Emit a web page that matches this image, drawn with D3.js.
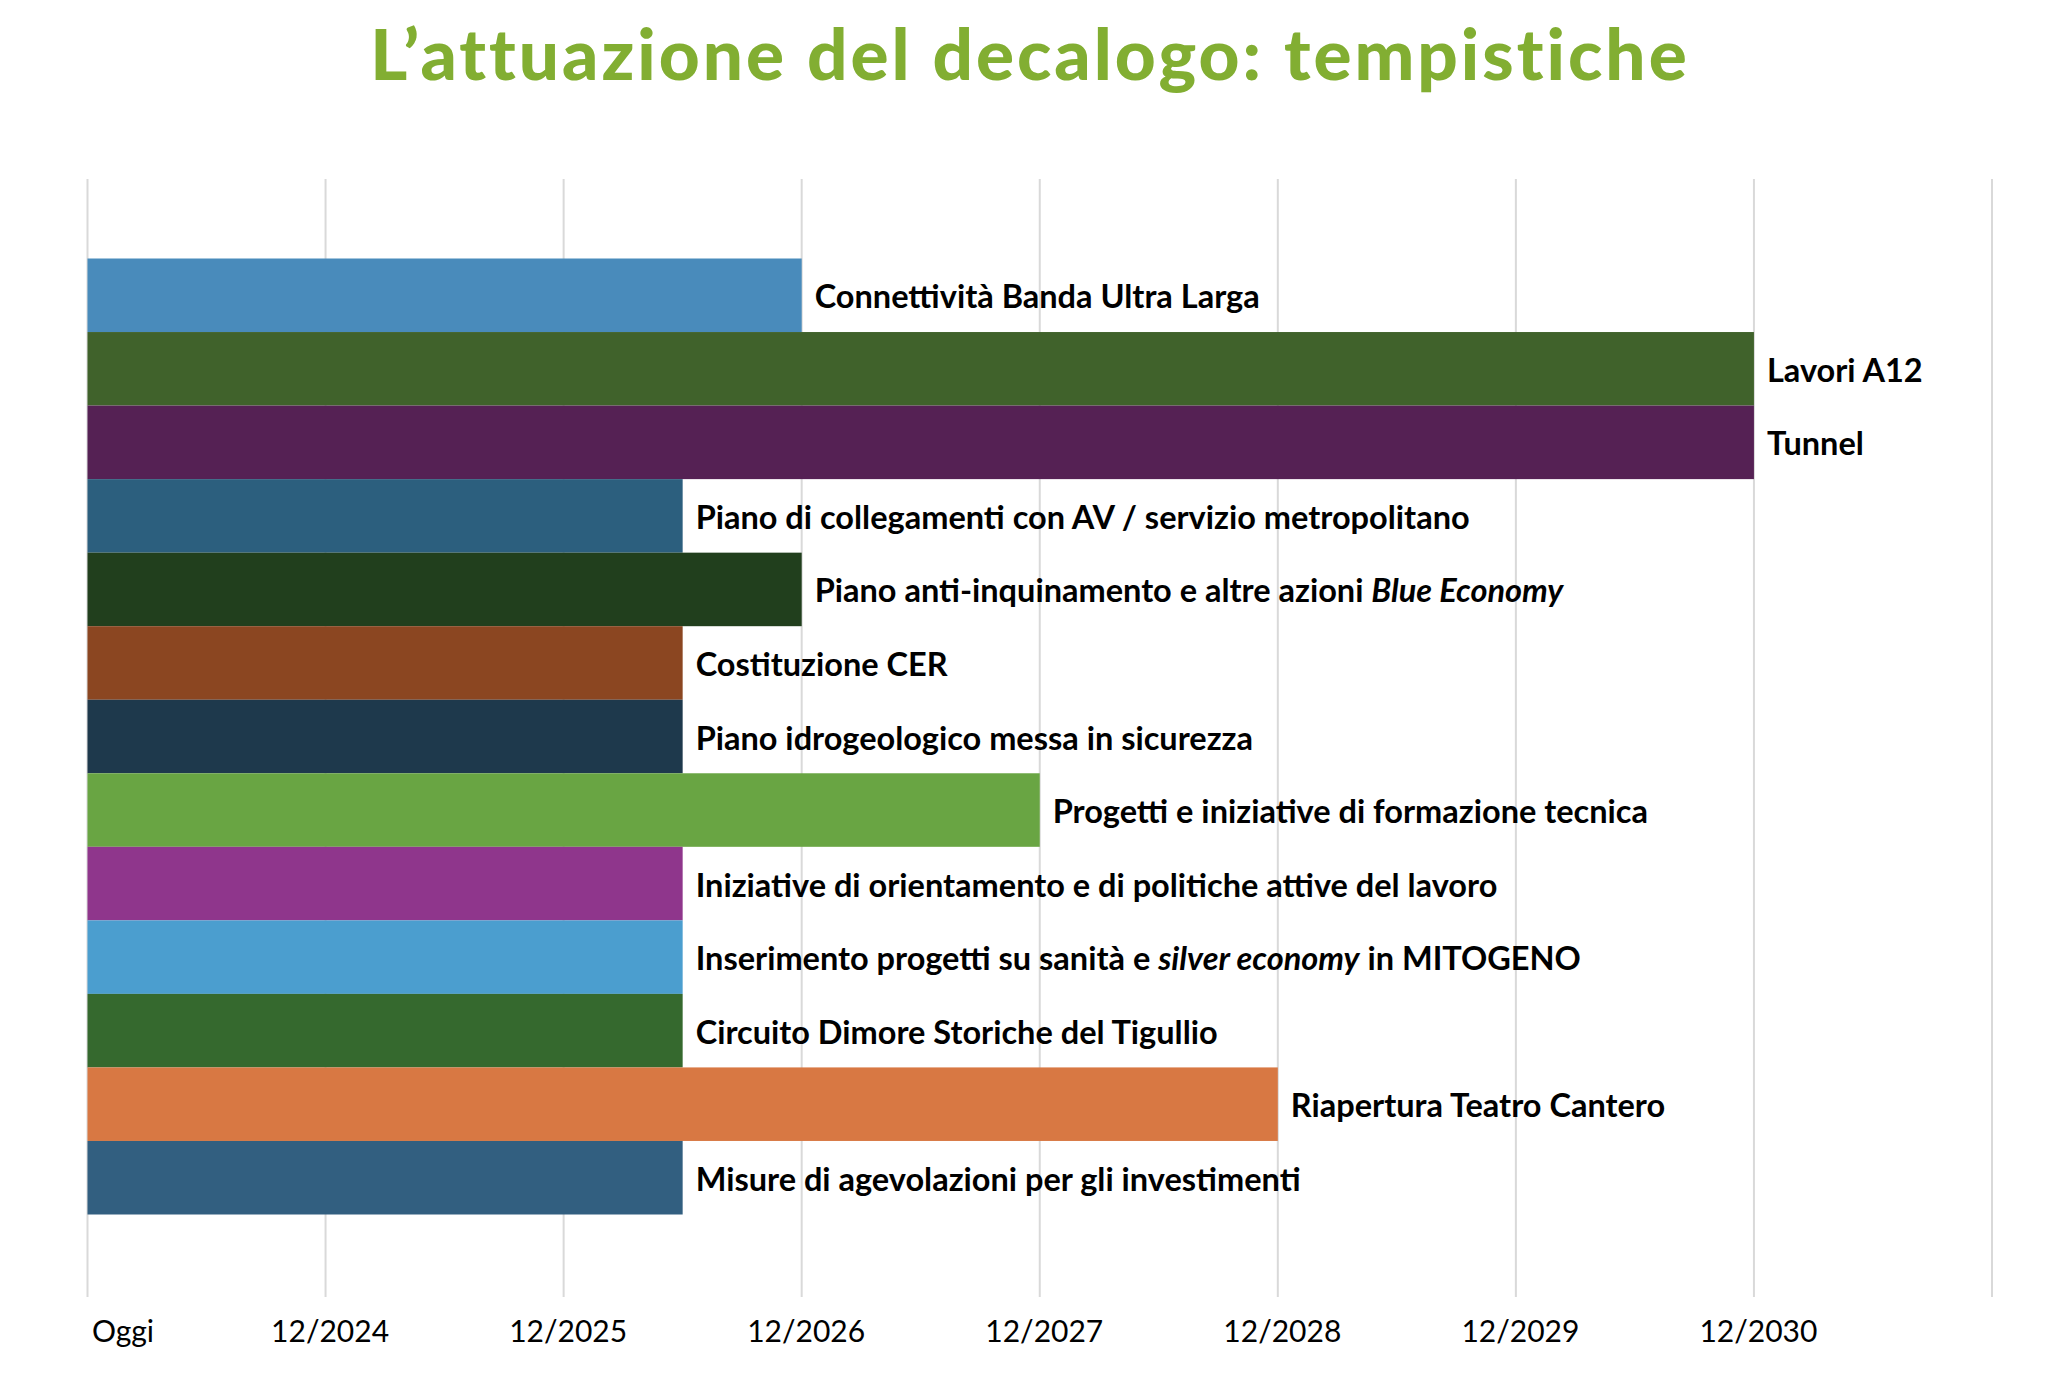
<!DOCTYPE html>
<html>
<head>
<meta charset="utf-8">
<script src="https://cdn.jsdelivr.net/npm/d3@7"></script>
<style>
  html, body { margin: 0; padding: 0; background: #ffffff; }
  svg { display: block; }
</style>
</head>
<body>
<svg id="chart" width="2048" height="1382"></svg>
<script>
// ---- data ----
const titleText = "L\u2019attuazione del decalogo: tempistiche";
const tickLabels = ["Oggi", "12/2024", "12/2025", "12/2026", "12/2027", "12/2028", "12/2029", "12/2030"];
const categories = [
  "Connettività Banda Ultra Larga",
  "Lavori A12",
  "Tunnel",
  "Piano di collegamenti con AV / servizio metropolitano",
  "Piano anti-inquinamento e altre azioni *Blue Economy*",
  "Costituzione CER",
  "Piano idrogeologico messa in sicurezza",
  "Progetti e iniziative di formazione tecnica",
  "Iniziative di orientamento e di politiche attive del lavoro",
  "Inserimento progetti su sanità e *silver economy* in MITOGENO",
  "Circuito Dimore Storiche del Tigullio",
  "Riapertura Teatro Cantero",
  "Misure di agevolazioni per gli investimenti"
];
// end of each bar, in tick units (0 = Oggi, 1 = 12/2024, ...)
const endValues = [3, 7, 7, 2.5, 3, 2.5, 2.5, 4, 2.5, 2.5, 2.5, 5, 2.5];
const barColors = ["#498bbb", "#40622b", "#552154", "#2c5f7e", "#213f1d", "#8b4621", "#1e394c",
                   "#69a543", "#8f368c", "#4b9ecf", "#35692e", "#d87843", "#325f80"];

// ---- layout ----
const svg = d3.select("#chart");
const left = 87.5, right = 1992;
const gridTop = 179, gridBottom = 1297;
const barTop = 258.5, barBottom = 1214.5;

const x = d3.scaleLinear().domain([0, 8]).range([left, right]);
const y = d3.scaleBand().domain(d3.range(categories.length)).range([barTop, barBottom]).padding(0);

const FONT = "'Lato', 'Open Sans', sans-serif";

// title
svg.append("text")
  .attr("x", 1030).attr("y", 80)
  .attr("text-anchor", "middle")
  .attr("font-family", "'Lato', sans-serif")
  .attr("font-weight", 900)
  .attr("font-size", 71)
  .attr("letter-spacing", 3)
  .attr("fill", "#82ae32")
  .text(titleText);

// gridlines
svg.append("g").selectAll("line")
  .data(d3.range(0, 9))
  .join("line")
  .attr("x1", d => x(d)).attr("x2", d => x(d))
  .attr("y1", gridTop).attr("y2", gridBottom)
  .attr("stroke", "#d9d9d9").attr("stroke-width", 2);

// bars
svg.append("g").selectAll("rect")
  .data(categories)
  .join("rect")
  .attr("x", x(0))
  .attr("y", (d, i) => y(i))
  .attr("width", (d, i) => x(endValues[i]) - x(0))
  .attr("height", y.bandwidth())
  .attr("fill", (d, i) => barColors[i]);

// bar labels (with italic segments)
const labelG = svg.append("g");
categories.forEach((label, i) => {
  const lx = x(endValues[i]) + 13;
  const ly = y(i) + y.bandwidth() / 2 + 13;
  const t = labelG.append("text")
    .attr("x", lx).attr("y", ly)
    .attr("font-family", FONT)
    .attr("font-weight", 700)
    .attr("font-size", 32.5)
    .attr("fill", "#000");
  label.split("*").forEach((seg, k) => {
    if (!seg) return;
    t.append("tspan").attr("font-style", k % 2 === 1 ? "italic" : "normal").text(seg);
  });
});

// axis labels
const axis = d3.axisBottom(x)
  .tickValues(d3.range(tickLabels.length))
  .tickFormat((d, i) => tickLabels[i])
  .tickSize(0).tickPadding(0);
const axisG = svg.append("g").attr("transform", `translate(0,${1321})`).call(axis);
axisG.select(".domain").remove();
axisG.selectAll("text")
  .attr("font-family", FONT)
  .attr("font-size", 30)
  .attr("fill", "#000")
  .attr("dy", "0.71em")
  .attr("text-anchor", d => d === 0 ? "start" : "middle")
  .attr("x", d => d === 0 ? 4 : 4);
</script>
</body>
</html>
